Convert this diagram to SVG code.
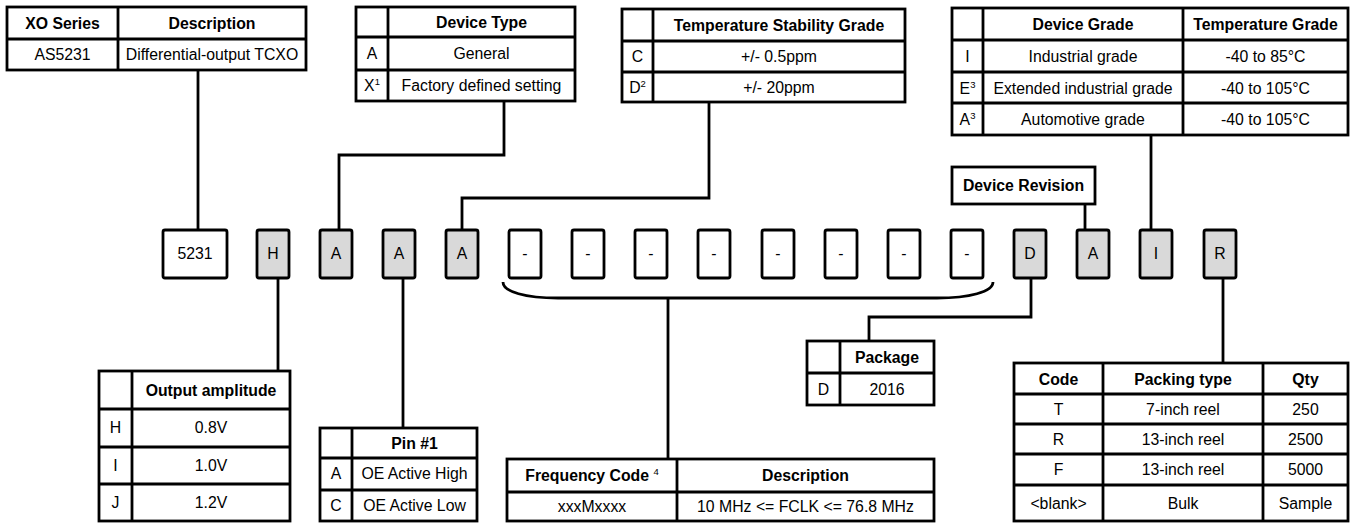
<svg xmlns="http://www.w3.org/2000/svg" width="1352" height="524" viewBox="0 0 1352 524">
<style>
text{font-family:"Liberation Sans",Arial,sans-serif;font-size:15.8px;fill:#000;text-anchor:middle}
.b{font-weight:bold}
.sup{font-size:9.5px;font-weight:normal}
.tb{fill:#fff;stroke:#000;stroke-width:2.8}
.ln{stroke:#000;stroke-width:2.8;fill:none}
.bx{fill:#fff;stroke:#000;stroke-width:2.8}
.gb{fill:#d9d9d9;stroke:#000;stroke-width:2.8}
</style>
<rect width="1352" height="524" fill="#fff"/>

<g id="connectors" class="ln">
<path d="M198 70V230"/>
<path d="M504 101V155H339V230"/>
<path d="M709 102V198H462V230"/>
<path d="M1151 135V230"/>
<path d="M1085 204V230"/>
<path d="M278 278V371"/>
<path d="M403 278V428"/>
<path d="M503 282C503 292 526 298 558 298H937C969 298 993 292 993 282"/>
<path d="M668 298V459"/>
<path d="M1031 278V317H869V341"/>
<path d="M1223 278V363"/>
</g>

<g id="xo-series">
<rect class="tb" x="7" y="7" width="299" height="63"/>
<path class="ln" d="M7 39H306M118 7V70"/>
<text class="b" x="62.5" y="29">XO Series</text>
<text class="b" x="212" y="29">Description</text>
<text x="62.5" y="60">AS5231</text>
<text x="212" y="60">Differential-output TCXO</text>
</g>

<g id="device-type">
<rect class="tb" x="356" y="7" width="219" height="94"/>
<path class="ln" d="M356 37H575M356 70H575M388 7V101"/>
<text class="b" x="481.5" y="28">Device Type</text>
<text x="372" y="59">A</text>
<text x="481.5" y="59">General</text>
<text x="372" y="91">X<tspan class="sup" dy="-6">1</tspan></text>
<text x="481.5" y="91">Factory defined setting</text>
</g>

<g id="temp-stability">
<rect class="tb" x="622" y="9" width="283" height="93"/>
<path class="ln" d="M622 41H905M622 72H905M653 9V102"/>
<text class="b" x="779" y="31">Temperature Stability Grade</text>
<text x="637.5" y="62">C</text>
<text x="779" y="62">+/- 0.5ppm</text>
<text x="637.5" y="93">D<tspan class="sup" dy="-6">2</tspan></text>
<text x="779" y="93">+/- 20ppm</text>
</g>

<g id="device-grade">
<rect class="tb" x="952" y="8" width="396" height="127"/>
<path class="ln" d="M952 40H1348M952 72H1348M952 103H1348M983 8V135M1183 8V135"/>
<text class="b" x="1083" y="30">Device Grade</text>
<text class="b" x="1265.5" y="30">Temperature Grade</text>
<text x="967.5" y="62">I</text>
<text x="1083" y="62">Industrial grade</text>
<text x="1265.5" y="62">-40 to 85°C</text>
<text x="967.5" y="94">E<tspan class="sup" dy="-6">3</tspan></text>
<text x="1083" y="94">Extended industrial grade</text>
<text x="1265.5" y="94">-40 to 105°C</text>
<text x="967.5" y="125">A<tspan class="sup" dy="-6">3</tspan></text>
<text x="1083" y="125">Automotive grade</text>
<text x="1265.5" y="125">-40 to 105°C</text>
</g>

<g id="device-revision">
<rect class="tb" x="952" y="167" width="143" height="37"/>
<text class="b" x="1023.5" y="191">Device Revision</text>
</g>

<g id="code-row">
<rect class="bx" x="163" y="230" width="64" height="48" rx="2"/>
<text x="195" y="259">5231</text>
<rect class="gb" x="257" y="230" width="32" height="48" rx="2"/><text x="273" y="259">H</text>
<rect class="gb" x="320" y="230" width="32" height="48" rx="2"/><text x="336" y="259">A</text>
<rect class="gb" x="383" y="230" width="32" height="48" rx="2"/><text x="399" y="259">A</text>
<rect class="gb" x="446" y="230" width="32" height="48" rx="2"/><text x="462" y="259">A</text>
<rect class="bx" x="509" y="230" width="32" height="48" rx="2"/><text x="525" y="259">-</text>
<rect class="bx" x="572" y="230" width="32" height="48" rx="2"/><text x="588" y="259">-</text>
<rect class="bx" x="635" y="230" width="32" height="48" rx="2"/><text x="651" y="259">-</text>
<rect class="bx" x="698" y="230" width="32" height="48" rx="2"/><text x="714" y="259">-</text>
<rect class="bx" x="762" y="230" width="32" height="48" rx="2"/><text x="778" y="259">-</text>
<rect class="bx" x="825" y="230" width="32" height="48" rx="2"/><text x="841" y="259">-</text>
<rect class="bx" x="888" y="230" width="32" height="48" rx="2"/><text x="904" y="259">-</text>
<rect class="bx" x="951" y="230" width="32" height="48" rx="2"/><text x="967" y="259">-</text>
<rect class="gb" x="1014" y="230" width="32" height="48" rx="2"/><text x="1030" y="259">D</text>
<rect class="gb" x="1077" y="230" width="32" height="48" rx="2"/><text x="1093" y="259">A</text>
<rect class="gb" x="1140" y="230" width="32" height="48" rx="2"/><text x="1156" y="259">I</text>
<rect class="gb" x="1204" y="230" width="32" height="48" rx="2"/><text x="1220" y="259">R</text>
</g>

<g id="output-amplitude">
<rect class="tb" x="99" y="371" width="191" height="150"/>
<path class="ln" d="M99 409H290M99 447H290M99 484H290M132 371V521"/>
<text class="b" x="211" y="396">Output amplitude</text>
<text x="115.5" y="433">H</text><text x="211" y="433">0.8V</text>
<text x="115.5" y="471">I</text><text x="211" y="471">1.0V</text>
<text x="115.5" y="508">J</text><text x="211" y="508">1.2V</text>
</g>

<g id="pin1">
<rect class="tb" x="320" y="428" width="157" height="93"/>
<path class="ln" d="M320 458H477M320 490H477M352 428V521"/>
<text class="b" x="414.5" y="449">Pin #1</text>
<text x="336" y="479">A</text><text x="414.5" y="479">OE Active High</text>
<text x="336" y="511">C</text><text x="414.5" y="511">OE Active Low</text>
</g>

<g id="package">
<rect class="tb" x="807" y="341" width="127" height="64"/>
<path class="ln" d="M807 373H934M840 341V405"/>
<text class="b" x="887" y="363">Package</text>
<text x="823.5" y="395">D</text><text x="887" y="395">2016</text>
</g>

<g id="frequency">
<rect class="tb" x="507" y="459" width="427" height="62"/>
<path class="ln" d="M507 492H934M677 459V521"/>
<text class="b" x="592" y="481">Frequency Code <tspan class="sup" dy="-6">4</tspan></text>
<text class="b" x="805.5" y="481">Description</text>
<text x="592" y="512">xxxMxxxx</text>
<text x="805.5" y="512">10 MHz &lt;= FCLK &lt;= 76.8 MHz</text>
</g>

<g id="packing">
<rect class="tb" x="1014" y="363" width="334" height="158"/>
<path class="ln" d="M1014 394H1348M1014 424H1348M1014 454H1348M1014 485H1348M1103 363V521M1263 363V521"/>
<text class="b" x="1058.5" y="385">Code</text>
<text class="b" x="1183" y="385">Packing type</text>
<text class="b" x="1305.5" y="385">Qty</text>
<text x="1058.5" y="415">T</text><text x="1183" y="415">7-inch reel</text><text x="1305.5" y="415">250</text>
<text x="1058.5" y="445">R</text><text x="1183" y="445">13-inch reel</text><text x="1305.5" y="445">2500</text>
<text x="1058.5" y="475">F</text><text x="1183" y="475">13-inch reel</text><text x="1305.5" y="475">5000</text>
<text x="1058.5" y="509">&lt;blank&gt;</text><text x="1183" y="509">Bulk</text><text x="1305.5" y="509">Sample</text>
</g>
</svg>
